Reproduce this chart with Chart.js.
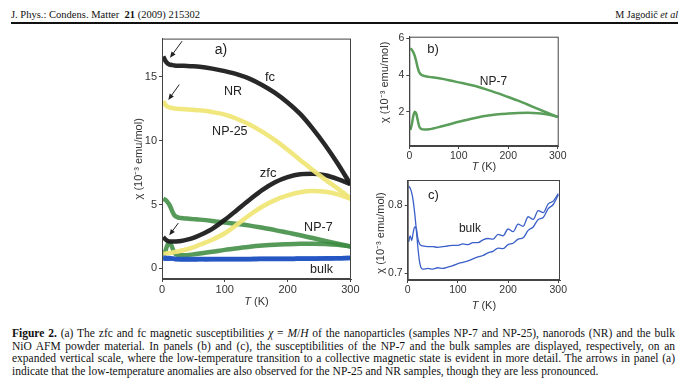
<!DOCTYPE html>
<html>
<head>
<meta charset="utf-8">
<title>NiO susceptibility</title>
<script src="https://cdn.jsdelivr.net/npm/chart.js@4.4.0/dist/chart.umd.min.js"></script>
<style>
  html, body { margin: 0; padding: 0; background: #fff; }
  body { width: 686px; height: 390px; position: relative; overflow: hidden; }
  canvas { position: absolute; }
  .serif { font-family: "Liberation Serif", "Times New Roman", serif; color: #111; position: absolute; white-space: nowrap; }
  #hl { left: 11px; top: 8px; font-size: 11px; transform-origin: 0 50%; }
  #hr { right: 8px; top: 8px; font-size: 11px; transform-origin: 100% 50%; }
  #rule { position: absolute; left: 11px; top: 22px; width: 667px; height: 2px; background: #111; }
  #cap { left: 12px; top: 327px; width: 663px; font-size: 11.5px; line-height: 12.7px; white-space: normal; }
  #cap div { text-align: justify; text-align-last: justify; white-space: nowrap; }
  #cap div.last { text-align-last: left; }
</style>
</head>
<body>
<div class="serif" id="hl">J. Phys.: Condens. Matter&nbsp; <b>21</b> (2009) 215302</div>
<div class="serif" id="hr">M Jagodič <i>et al</i></div>
<div id="rule"></div>

<canvas id="pa" width="266" height="285" style="left:100px; top:30px; width:266px; height:285px;"></canvas>
<canvas id="pb" width="220" height="160" style="left:355px; top:28px; width:220px; height:160px;"></canvas>
<canvas id="pc" width="220" height="145" style="left:355px; top:170px; width:220px; height:145px;"></canvas>

<div class="serif" id="cap">
  <div><b>Figure 2.</b> (a) The zfc and fc magnetic susceptibilities <i>χ</i> = <i>M</i>/<i>H</i> of the nanoparticles (samples NP-7 and NP-25), nanorods (NR) and the bulk</div>
  <div>NiO AFM powder material. In panels (b) and (c), the susceptibilities of the NP-7 and the bulk samples are displayed, respectively, on an</div>
  <div>expanded vertical scale, where the low-temperature transition to a collective magnetic state is evident in more detail. The arrows in panel (a)</div>
  <div class="last">indicate that the low-temperature anomalies are also observed for the NP-25 and NR samples, though they are less pronounced.</div>
</div>

<script>
// temperatures (K) shared by the panel a / b curves
var tempA   = [2, 5, 8, 11, 14, 17, 20, 25, 30, 40, 50, 60, 80, 100, 120, 140, 160, 180, 200, 220, 240, 260, 280, 300];
// chi in 10^-3 emu/mol
var nrFc    = [16.6, 16.3, 16.1, 16.0, 15.95, 15.92, 15.9, 15.88, 15.87, 15.86, 15.84, 15.8, 15.65, 15.45, 15.2, 14.85, 14.35, 13.75, 13.0, 12.1, 10.95, 9.65, 8.2, 6.6];
var nrZfc   = [2.45, 2.3, 2.18, 2.12, 2.1, 2.1, 2.1, 2.12, 2.15, 2.25, 2.4, 2.6, 3.1, 3.8, 4.6, 5.4, 6.15, 6.75, 7.15, 7.38, 7.42, 7.3, 7.0, 6.6];
var np25Fc  = [13.1, 12.85, 12.7, 12.62, 12.58, 12.55, 12.52, 12.5, 12.48, 12.45, 12.42, 12.38, 12.25, 12.05, 11.7, 11.25, 10.7, 10.05, 9.3, 8.5, 7.7, 6.95, 6.25, 5.5];
var np25Zfc = [1.15, 1.15, 1.18, 1.2, 1.22, 1.25, 1.28, 1.32, 1.38, 1.5, 1.65, 1.85, 2.25, 2.75, 3.45, 4.2, 4.85, 5.35, 5.72, 5.97, 6.06, 6.0, 5.8, 5.45];
var np7Fc   = [5.45, 5.38, 5.25, 5.05, 4.75, 4.4, 4.15, 4.0, 3.95, 3.9, 3.86, 3.82, 3.72, 3.6, 3.48, 3.35, 3.18, 3.0, 2.8, 2.6, 2.38, 2.15, 1.93, 1.72];
var np7Zfc  = [1.0, 1.3, 1.75, 2.0, 1.9, 1.55, 1.2, 1.05, 1.03, 1.04, 1.1, 1.16, 1.3, 1.45, 1.58, 1.7, 1.79, 1.86, 1.9, 1.93, 1.94, 1.92, 1.85, 1.72];

// bulk sample (panel c and the blue band of panel a)
var tempBulk = [2, 5, 8, 11, 14, 17, 20, 23, 26, 30, 40, 50, 60, 70, 80, 90, 100, 110, 120, 130, 140, 150, 160, 170, 180, 190, 200, 210, 220, 230, 240, 250, 260, 270, 280, 290, 300];
var bulkFc   = [0.828, 0.825, 0.818, 0.806, 0.788, 0.765, 0.740, 0.720, 0.709, 0.706, 0.707, 0.706, 0.708, 0.707, 0.709, 0.711, 0.714, 0.716, 0.718, 0.721, 0.724, 0.726, 0.730, 0.732, 0.737, 0.736, 0.742, 0.744, 0.750, 0.752, 0.763, 0.768, 0.779, 0.782, 0.795, 0.801, 0.815];
var bulkZfc  = [0.746, 0.755, 0.748, 0.760, 0.768, 0.766, 0.752, 0.744, 0.741, 0.740, 0.739, 0.739, 0.738, 0.739, 0.740, 0.741, 0.741, 0.743, 0.742, 0.745, 0.745, 0.749, 0.751, 0.750, 0.757, 0.755, 0.765, 0.761, 0.772, 0.769, 0.783, 0.779, 0.792, 0.789, 0.802, 0.806, 0.817];

var ticksT = [0, 100, 200, 300];
var ticksA = [0, 5, 10, 15];
var ticksB = [2, 4, 6];
var ticksC = [0.7, 0.8];

// stretch the running head to the width it has in the scan
function fitWidth(id, target) {
  var el = document.getElementById(id);
  el.style.transform = 'scaleX(' + (target / el.getBoundingClientRect().width) + ')';
}
fitWidth('hl', 189);
fitWidth('hr', 63);

function pts(t, v) { return t.map(function (x, i) { return { x: x, y: v[i] }; }); }

function line(t, v, color, w) {
  return { data: pts(t, v), borderColor: color, borderWidth: w, pointRadius: 0,
           cubicInterpolationMode: 'monotone', fill: false };
}

var SANS = '"Liberation Sans", Arial, sans-serif';

var decor = {
  id: 'decor',
  afterDraw: function (chart, args, o) {
    var ctx = chart.ctx, a = chart.chartArea, x = chart.scales.x, y = chart.scales.y;
    ctx.save();
    ctx.strokeStyle = '#444'; ctx.lineWidth = 1;
    ctx.strokeRect(a.left + 0.5, a.top + 0.5, a.width - 1, a.height - 1);

    ctx.fillStyle = '#222'; ctx.textAlign = 'center'; ctx.textBaseline = 'middle';
    (o.notes || []).forEach(function (n) {
      ctx.font = n.size + 'px ' + SANS;
      ctx.fillText(n.text, x.getPixelForValue(n.x), y.getPixelForValue(n.y));
    });

    ctx.strokeStyle = '#222'; ctx.lineWidth = 1;
    (o.arrows || []).forEach(function (r) {
      var x0 = x.getPixelForValue(r[0]), y0 = y.getPixelForValue(r[1]);
      var x1 = x.getPixelForValue(r[2]), y1 = y.getPixelForValue(r[3]);
      var ang = Math.atan2(y1 - y0, x1 - x0);
      ctx.beginPath(); ctx.moveTo(x0, y0); ctx.lineTo(x1 - 3 * Math.cos(ang), y1 - 3 * Math.sin(ang)); ctx.stroke();
      ctx.beginPath();
      ctx.moveTo(x1, y1);
      ctx.lineTo(x1 - 6 * Math.cos(ang) + 2.5 * Math.sin(ang), y1 - 6 * Math.sin(ang) - 2.5 * Math.cos(ang));
      ctx.lineTo(x1 - 6 * Math.cos(ang) - 2.5 * Math.sin(ang), y1 - 6 * Math.sin(ang) + 2.5 * Math.cos(ang));
      ctx.closePath(); ctx.fill();
    });

    // axis titles
    ctx.fillStyle = '#333';
    ctx.font = 'italic 11px ' + SANS;
    var wT = ctx.measureText('T').width;
    ctx.font = '11px ' + SANS;
    var wK = ctx.measureText(' (K)').width;
    var cx = (a.left + a.right) / 2 - (wT + wK) / 2, cy = a.bottom + o.xTitle;
    ctx.textAlign = 'left';
    ctx.font = 'italic 11px ' + SANS; ctx.fillText('T', cx, cy);
    ctx.font = '11px ' + SANS; ctx.fillText(' (K)', cx + wT, cy);

    ctx.translate(a.left - o.yTitle, (a.top + a.bottom) / 2 + (o.yShift || 0));
    ctx.rotate(-Math.PI / 2);
    ctx.textAlign = 'center';
    ctx.fillText('χ (10⁻³ emu/mol)', 0, 0);
    ctx.restore();
  }
};

function panel(id, o) {
  return new Chart(document.getElementById(id), {
    type: 'line',
    data: { datasets: o.datasets },
    options: {
      responsive: false, animation: false, events: [],
      layout: { padding: o.pad, autoPadding: false },
      plugins: { legend: { display: false }, tooltip: { enabled: false },
                 decor: { notes: o.notes, arrows: o.arrows, xTitle: o.xTitle, yTitle: o.yTitle, yShift: o.yShift } },
      scales: {
        x: {
          type: 'linear', min: 0, max: o.xmax,
          afterBuildTicks: function (s) { s.ticks = ticksT.map(function (v) { return { value: v }; }); },
          afterFit: function (s) { s.height = o.xh; },
          ticks: { font: { family: SANS, size: o.fs }, color: '#333', padding: 1, maxRotation: 0 },
          grid: { drawOnChartArea: false, tickLength: 3, color: '#444' },
          border: { color: '#444' }
        },
        y: {
          min: o.ymin, max: o.ymax,
          afterBuildTicks: function (s) { s.ticks = o.yticks.map(function (v) { return { value: v }; }); },
          afterFit: function (s) { s.width = o.yw; },
          ticks: { font: { family: SANS, size: o.fs }, color: '#333', padding: 2 },
          grid: { drawOnChartArea: false, tickLength: 3, color: '#444' },
          border: { color: '#444' }
        }
      }
    },
    plugins: [decor]
  });
}

panel('pa', {
  datasets: [
    line(tempBulk, bulkZfc, 'rgba(38,87,196,0.95)', 4.5),
    line(tempBulk, bulkFc, 'rgba(38,87,196,0.95)', 4.5),
    line(tempA, np25Zfc, 'rgba(240,230,120,0.95)', 4.5),
    line(tempA, np25Fc, 'rgba(240,230,120,0.95)', 4.5),
    line(tempA, nrZfc, 'rgba(28,28,28,0.95)', 4.5),
    line(tempA, nrFc, 'rgba(28,28,28,0.95)', 4.5),
    line(tempA, np7Zfc, 'rgba(62,140,66,0.88)', 4.5),
    line(tempA, np7Fc, 'rgba(62,140,66,0.88)', 4.5)
  ],
  xmax: 301, ymin: -0.83, ymax: 18.0, yticks: ticksA, fs: 11,
  pad: { left: 0, top: 6.5, right: 15, bottom: 0 }, yw: 62, xh: 36,
  xTitle: 23, yTitle: 23,
  notes: [
    { text: 'a)', x: 94, y: 17.1, size: 14 },
    { text: 'fc', x: 172, y: 14.95, size: 13 },
    { text: 'NR', x: 113, y: 13.85, size: 12.5 },
    { text: 'NP-25', x: 108, y: 10.75, size: 12.5 },
    { text: 'zfc', x: 169, y: 7.43, size: 13 },
    { text: 'NP-7', x: 249, y: 3.19, size: 12.5 },
    { text: 'bulk', x: 254, y: -0.08, size: 12.5 }
  ],
  arrows: [[32, 17.8, 12.7, 16.5], [27.5, 14.4, 10, 13.2], [26, 3.55, 11.6, 2.6]]
});

panel('pb', {
  datasets: [
    line(tempA, np7Zfc, '#5a9e5a', 2.5),
    line(tempA, np7Fc, '#5a9e5a', 2.5)
  ],
  xmax: 302, ymin: 0.13, ymax: 6.09, yticks: ticksB, fs: 10.5,
  pad: { left: 0, top: 8.7, right: 16.3, bottom: 0 }, yw: 54.3, xh: 42,
  xTitle: 21, yTitle: 24, yShift: -9,
  notes: [
    { text: 'b)', x: 48, y: 5.4, size: 13 },
    { text: 'NP-7', x: 170, y: 3.64, size: 12 }
  ]
});

panel('pc', {
  datasets: [
    line(tempBulk, bulkZfc, '#3a5fc8', 1.3),
    line(tempBulk, bulkFc, '#3a5fc8', 1.3)
  ],
  xmax: 303.4, ymin: 0.69, ymax: 0.837, yticks: ticksC, fs: 10.5,
  pad: { left: 0, top: 10, right: 15, bottom: 0 }, yw: 52.7, xh: 35,
  xTitle: 26, yTitle: 27, yShift: 3,
  notes: [
    { text: 'c)', x: 51, y: 0.8146, size: 13 },
    { text: 'bulk', x: 124, y: 0.766, size: 12 }
  ]
});
</script>
</body>
</html>
